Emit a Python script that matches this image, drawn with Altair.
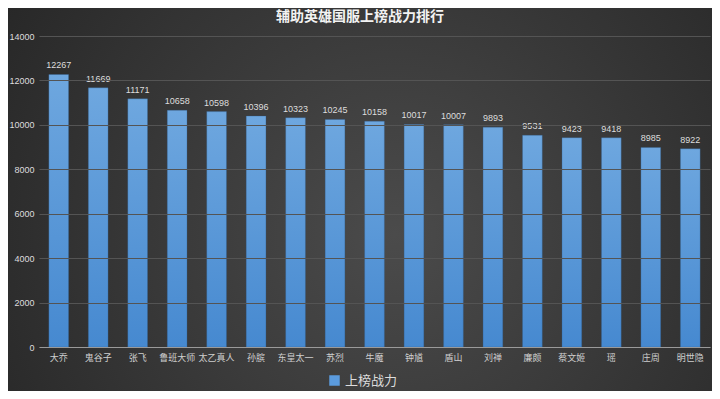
import altair as alt
import pandas as pd

heroes = ["大乔", "鬼谷子", "张飞", "鲁班大师", "太乙真人", "孙膑", "东皇太一", "苏烈", "牛魔",
          "钟馗", "盾山", "刘禅", "廉颇", "蔡文姬", "瑶", "庄周", "明世隐"]
power = [12267, 11669, 11171, 10658, 10598, 10396, 10323, 10245, 10158,
         10017, 10007, 9893, 9531, 9423, 9418, 8985, 8922]
series_name = "上榜战力"
title_text = "辅助英雄国服上榜战力排行"
y_ticks = [0, 2000, 4000, 6000, 8000, 10000, 12000, 14000]

W, H = 704, 383
FONT = "Liberation Sans, Noto Sans CJK SC, sans-serif"

df = pd.DataFrame({"hero": heroes, "power": power, "series": series_name})

xscale = alt.Scale(range=[31, 702], paddingInner=0.5, paddingOuter=0.25)
yscale = alt.Scale(domain=[0, 14000], range=[339, 28], nice=False)

bg = alt.Chart(pd.DataFrame({"a": [0]})).mark_rect(
    color=alt.RadialGradient(
        gradient="radial", x1=0.55, y1=0.55, r1=0, x2=0.55, y2=0.55, r2=0.75,
        stops=[alt.GradientStop(offset=0, color="#4b4b4b"),
               alt.GradientStop(offset=1, color="#222222")])
).encode(x=alt.value(0), x2=alt.value(W), y=alt.value(0), y2=alt.value(H))

x_enc = alt.X("hero:N", sort=None, scale=xscale, title=None,
              axis=alt.Axis(orient="bottom", offset=-44, labelAngle=0, ticks=False,
                            domainColor="#9a9a9a", labelColor="#cfcfcf", labelFontSize=9,
                            labelFont=FONT, labelPadding=6, grid=False, zindex=1))
y_enc = alt.Y("power:Q", scale=yscale, title=None,
              axis=alt.Axis(orient="left", offset=-31, values=y_ticks, format="d",
                            domain=False, ticks=False,
                            labelColor="#dddddd", labelFontSize=9, labelFont=FONT, labelPadding=5,
                            grid=True, gridColor="#545454", gridWidth=1, zindex=1))

bars = alt.Chart(df).mark_bar(
    color=alt.LinearGradient(
        gradient="linear", x1=0, y1=0, x2=0, y2=1,
        stops=[alt.GradientStop(offset=0, color="#6ea7df"),
               alt.GradientStop(offset=1, color="#4689d0")]),
    stroke="#2f5f8f", strokeWidth=0.5, strokeOpacity=0.6
).encode(x=x_enc, y=y_enc)

labels = alt.Chart(df).mark_text(
    baseline="bottom", dy=-4, color="#dddddd", fontSize=9, font=FONT
).encode(x=alt.X("hero:N", sort=None), y=alt.Y("power:Q"), text=alt.Text("power:Q"))

legend_layer = alt.Chart(df).mark_point(opacity=0, filled=True).encode(
    x=alt.X("hero:N", sort=None),
    y=alt.Y("power:Q"),
    color=alt.Color("series:N", scale=alt.Scale(range=["#5b9bdd"]), title=None,
                    legend=alt.Legend(orient="none", legendX=320, legendY=366,
                                      symbolType="square", symbolSize=110, symbolOpacity=1,
                                      symbolStrokeWidth=0, labelColor="#dddddd",
                                      labelFontSize=13, labelFont=FONT))
)

title = alt.Chart(pd.DataFrame({"t": [title_text]})).mark_text(
    color="#f2f2f2", fontSize=14, fontWeight="bold", font=FONT, baseline="middle", align="center"
).encode(x=alt.value(352), y=alt.value(9), text="t:N")

chart = alt.layer(bg, bars, labels, legend_layer, title).properties(
    width=W, height=H, padding=0, autosize=alt.AutoSizeParams(type="none"),
    background="#2a2a2a"
).configure_view(stroke=None)

chart.save("out.html", embed_options={"renderer": "svg", "actions": False})
